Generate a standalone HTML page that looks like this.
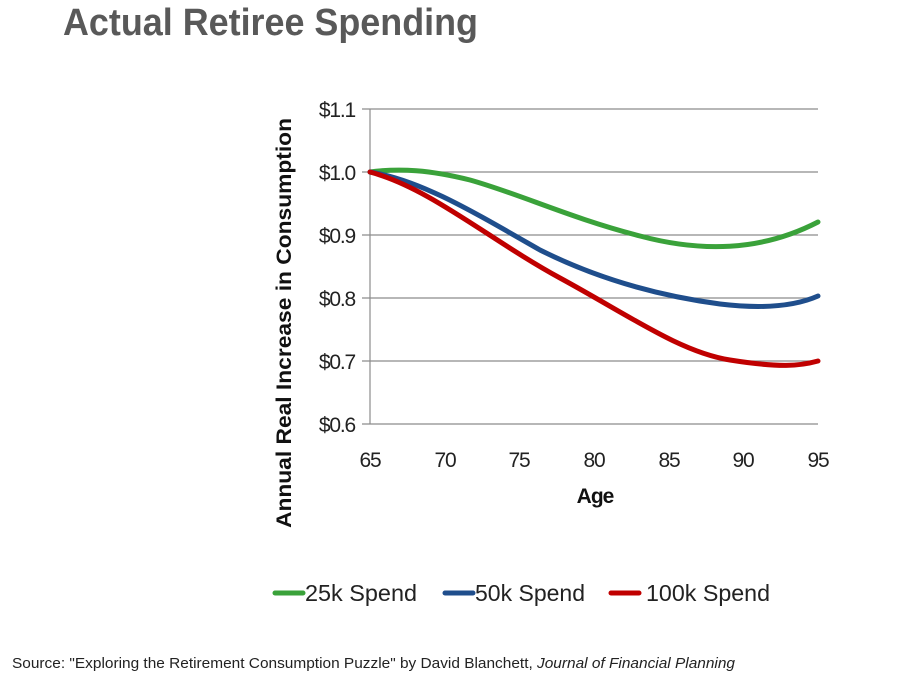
<!DOCTYPE html>
<html><head><meta charset="utf-8"><style>
body{margin:0;background:#fff;}
svg{display:block;font-family:"Liberation Sans",Arial,sans-serif;}
</style></head><body>
<svg width="898" height="699" viewBox="0 0 898 699">
<text x="63" y="35" font-size="38" font-weight="bold" fill="#595959" textLength="415" lengthAdjust="spacingAndGlyphs">Actual Retiree Spending</text>
<g stroke="#8c8c8c" stroke-width="1.2">
<line x1="362" y1="109" x2="818" y2="109"/>
<line x1="362" y1="172" x2="818" y2="172"/>
<line x1="362" y1="235" x2="818" y2="235"/>
<line x1="362" y1="298" x2="818" y2="298"/>
<line x1="362" y1="361" x2="818" y2="361"/>
<line x1="362" y1="424" x2="818" y2="424"/>
<line x1="370" y1="109" x2="370" y2="424"/>
</g>
<g font-size="21" fill="#222" text-anchor="end" letter-spacing="-1.2">
<text x="355" y="117">$1.1</text>
<text x="355" y="180">$1.0</text>
<text x="355" y="243">$0.9</text>
<text x="355" y="306">$0.8</text>
<text x="355" y="369">$0.7</text>
<text x="355" y="432">$0.6</text>
</g>
<g font-size="21" fill="#222" text-anchor="middle" letter-spacing="-1.2">
<text x="370" y="467">65</text><text x="445" y="467">70</text><text x="519" y="467">75</text>
<text x="594" y="467">80</text><text x="669" y="467">85</text><text x="743" y="467">90</text><text x="818" y="467">95</text>
</g>
<text x="595" y="503" font-size="21" font-weight="bold" text-anchor="middle" fill="#111" letter-spacing="-1">Age</text>
<text transform="translate(291,323) rotate(-90)" font-size="21" font-weight="bold" text-anchor="middle" fill="#111" textLength="410" lengthAdjust="spacingAndGlyphs">Annual Real Increase in Consumption</text>
<g fill="none" stroke-width="5" stroke-linecap="round">
<path stroke="#3aa23a" d="M370,172 C400,168 430,170 470,180 C520,194 570,218 640,236 C700,252 760,252 818,222"/>
<path stroke="#1f4e8c" d="M370,172 C420,180 470,210 540,250 C600,280 660,296 720,304 C770,310 800,304 818,296"/>
<path stroke="#c00000" d="M370,172 C430,188 490,240 560,278 S680,352 730,360 S800,366 818,361"/>
</g>
<g stroke-width="5" stroke-linecap="round">
<line x1="275" y1="593" x2="303" y2="593" stroke="#3aa23a"/>
<line x1="445" y1="593" x2="473" y2="593" stroke="#1f4e8c"/>
<line x1="611" y1="593" x2="639" y2="593" stroke="#c00000"/>
</g>
<g font-size="23" fill="#222">
<text x="305" y="601" textLength="112" lengthAdjust="spacingAndGlyphs">25k Spend</text>
<text x="475" y="601" textLength="110" lengthAdjust="spacingAndGlyphs">50k Spend</text>
<text x="646" y="601" textLength="124" lengthAdjust="spacingAndGlyphs">100k Spend</text>
</g>
<text x="12" y="668" font-size="15" fill="#222" textLength="723" lengthAdjust="spacingAndGlyphs">Source: "Exploring the Retirement Consumption Puzzle" by David Blanchett, <tspan font-style="italic">Journal of Financial Planning</tspan></text>
</svg>
</body></html>
